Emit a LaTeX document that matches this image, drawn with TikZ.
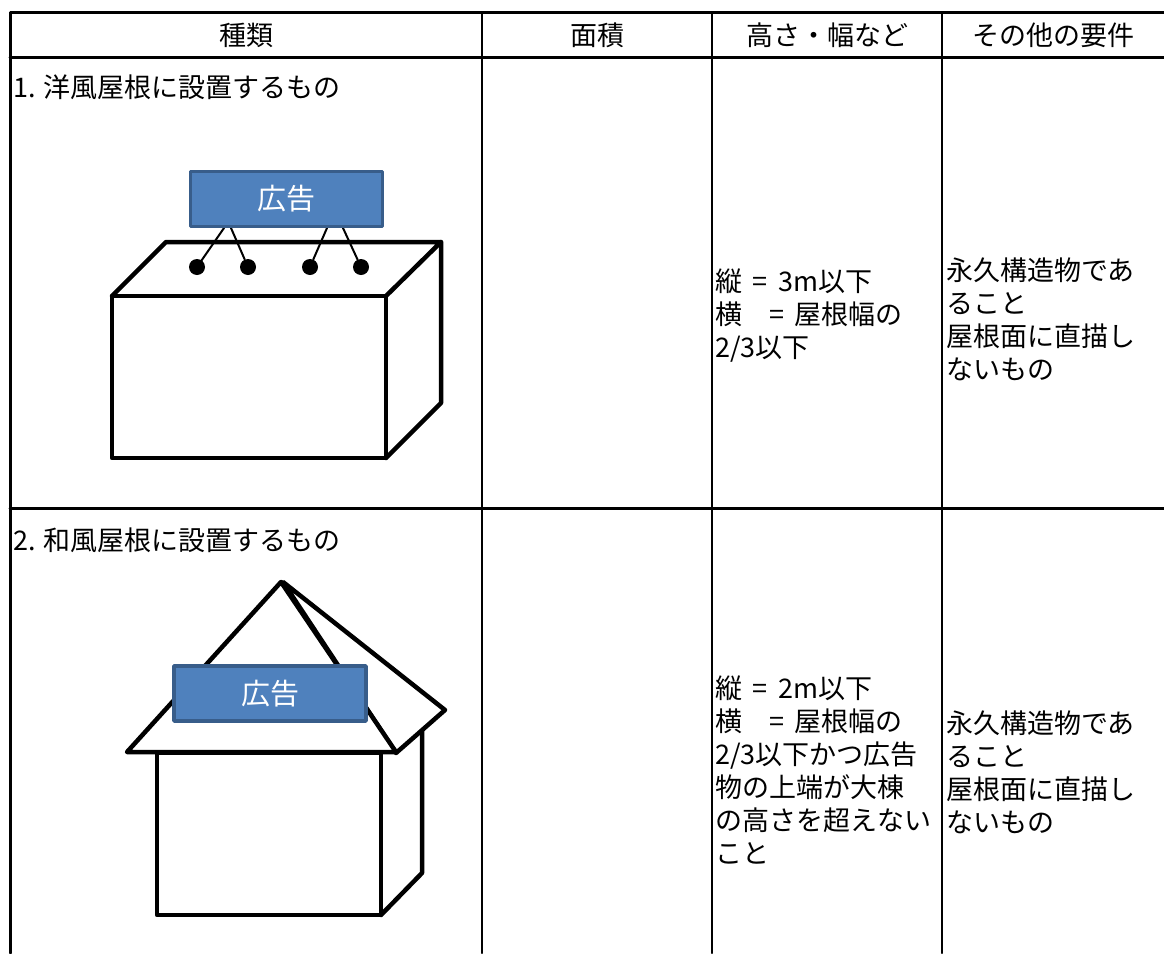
\documentclass[tikz,border=0pt]{standalone}
\usepackage{fontspec}
\setmainfont{Noto Sans CJK JP}
\usepackage{tikz}
\usetikzlibrary{positioning}
\definecolor{adfill}{HTML}{4F81BD}
\definecolor{adline}{HTML}{385D8A}
\newcommand{\eqsp}{\hspace{.4em}=\hspace{.4em}}

\begin{document}
\begin{tikzpicture}[x=1pt,y=-1pt,line join=round,line cap=round]
	\tikzstyle{every node}=[font=\fontsize{27}{33}\selectfont, inner sep=0pt]
	\tikzstyle{grid}=[line width=3pt]
	\tikzstyle{cell}=[anchor=west, align=left]
	\tikzstyle{ad}=[draw=adline, fill=adfill, line width=3.5pt, text=white, font=\fontsize{29}{33}\selectfont, minimum width=192pt, minimum height=55pt]
	\tikzstyle{pin}=[circle, fill=black, minimum size=16pt]
	\tikzstyle{outline}=[line width=4.5pt]
	\useasboundingbox (0,0) rectangle (1164,953);

	% table
	\draw[grid] (10,953) -- (10,12.5) -- (1164,12.5);
	\draw[grid] (10,57) -- (1164,57);
	\draw[grid] (10,508) -- (1164,508);
	\foreach \x in {482,712,942}{
		\draw[line width=2.7pt] (\x,12.5) -- (\x,953);
	}
	\node (kind) at (246,35) {種類};
	\node (area) at (597,35) {面積};
	\node (size) at (827,35) {高さ・幅など};
	\node (other) at (1053,35) {その他の要件};

	% row 1
	\node[cell] (title1) at (13,87) {1. 洋風屋根に設置するもの};
	\draw[outline] (112,296) rectangle (386,458);
	\draw[outline] (112,296) -- (166,242) -- (441,242) -- (386,296);
	\draw[outline] (441,242) -- (441,403) -- (386,458);
	\foreach \n/\x/\h in {1/197/224, 2/248/231, 3/310/327, 4/361/343}{
		\node[pin] (p\n) at (\x,267) {};
		\coordinate (h\n) at (\h,228);
		\draw[line width=2pt] (h\n) -- (p\n);
	}
	\node[ad] (ad1) at (286.5,199) {広告};
	\node[cell] (size1) at (715,316) {縦\eqsp 3m以下\\横　=\hspace{.4em}屋根幅の\\2/3以下};
	\node[cell] (other1) at (946,319) {永久構造物であ\\ること\\屋根面に直描し\\ないもの};

	% row 2
	\node[cell] (title2) at (13,540) {2. 和風屋根に設置するもの};
	\draw[outline] (157,753) rectangle (381,915);
	\draw[outline] (422,730) -- (422,873) -- (381,915);
	\draw[outline,fill=white] (283,582) -- (445,710) -- (396,753) -- cycle;
	\draw[outline,fill=white] (281,582) -- (127,752) -- (396,752) -- cycle;
	\node[ad] (ad2) at (270,693.5) {広告};
	\node[cell] (size2) at (715,770) {縦\eqsp 2m以下\\横　=\hspace{.4em}屋根幅の\\2/3以下かつ広告\\物の上端が大棟\\の高さを超えない\\こと};
	\node[cell] (other2) at (946,772) {永久構造物であ\\ること\\屋根面に直描し\\ないもの};
\end{tikzpicture}
\end{document}
